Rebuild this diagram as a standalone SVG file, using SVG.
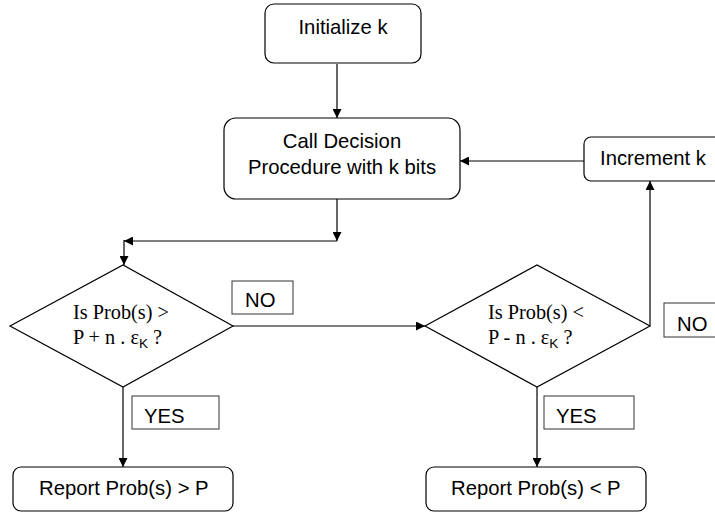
<svg xmlns="http://www.w3.org/2000/svg" width="715" height="512" viewBox="0 0 715 512">
<style>
.box{fill:#fff;stroke:#000;stroke-width:1.2}
.lbl{fill:#fff;stroke:#333;stroke-width:1}
.t{font-family:"Liberation Sans",Arial,sans-serif;font-size:20.3px;fill:#000}
.tm{font-family:"Liberation Serif","Times New Roman",serif;font-size:20.3px;fill:#000}
.sub{font-family:"Liberation Sans",Arial,sans-serif;font-size:13.5px}
.c{fill:none;stroke:#000;stroke-width:1.2}
</style>
<defs>
<marker id="ah" viewBox="0 0 10 10" refX="10" refY="5" markerWidth="10" markerHeight="9" markerUnits="userSpaceOnUse" orient="auto">
<path d="M0,0 L10,5 L0,10 z" fill="#000"/>
</marker>
</defs>
<g id="connectors">
<line class="c" x1="337" y1="64" x2="337" y2="118" marker-end="url(#ah)"/>
<line class="c" x1="584" y1="161" x2="460" y2="161" marker-end="url(#ah)"/>
<line class="c" x1="337" y1="199" x2="337" y2="241" marker-end="url(#ah)"/>
<line class="c" x1="337" y1="241" x2="124" y2="241" marker-end="url(#ah)"/>
<line class="c" x1="124" y1="240" x2="124" y2="265" marker-end="url(#ah)"/>
<line class="c" x1="233" y1="326" x2="425" y2="326" marker-end="url(#ah)"/>
<polyline class="c" points="650,326 650,181" marker-end="url(#ah)"/>
<line class="c" x1="123" y1="387" x2="123" y2="467" marker-end="url(#ah)"/>
<line class="c" x1="537" y1="387" x2="537" y2="467" marker-end="url(#ah)"/>
</g>
<g id="init">
<rect class="box" x="265" y="4" width="156" height="59" rx="9"/>
<text class="t" x="343" y="34" text-anchor="middle">Initialize k</text>
</g>
<g id="call">
<rect class="box" x="224" y="118" width="236" height="81" rx="12"/>
<text class="t" x="342" y="148" text-anchor="middle">Call Decision</text>
<text class="t" x="342" y="174" text-anchor="middle">Procedure with k bits</text>
</g>
<g id="increment">
<rect class="box" x="584" y="137" width="150" height="44" rx="7"/>
<text class="t" x="600" y="165">Increment k</text>
</g>
<g id="dec1">
<polygon class="box" points="10,326 123,265 233,326 123,387"/>
<text class="tm" x="73" y="319">Is Prob(s) &gt;</text>
<text class="tm" x="73" y="344">P + n . ε<tspan class="sub" dy="4">K</tspan><tspan dy="-4"> ?</tspan></text>
</g>
<g id="dec2">
<polygon class="box" points="425,326 537,265 650,326 537,387"/>
<text class="tm" x="488" y="319">Is Prob(s) &lt;</text>
<text class="tm" x="488" y="344">P - n . ε<tspan class="sub" dy="4">K</tspan><tspan dy="-4"> ?</tspan></text>
</g>
<g id="no1">
<rect class="lbl" x="232" y="281" width="61" height="33"/>
<text class="t" x="245" y="307">NO</text>
</g>
<g id="no2">
<rect class="lbl" x="664" y="303" width="70" height="34"/>
<text class="t" x="677" y="331">NO</text>
</g>
<g id="yes1">
<rect class="lbl" x="132" y="396" width="87" height="33"/>
<text class="t" x="144" y="423">YES</text>
</g>
<g id="yes2">
<rect class="lbl" x="544" y="396" width="90" height="33"/>
<text class="t" x="556" y="423">YES</text>
</g>
<g id="report1">
<rect class="box" x="13" y="467" width="220" height="44" rx="8"/>
<text class="t" x="39" y="495">Report Prob(s) &gt; P</text>
</g>
<g id="report2">
<rect class="box" x="426" y="467" width="220" height="44" rx="8"/>
<text class="t" x="451" y="495">Report Prob(s) &lt; P</text>
</g>
</svg>
